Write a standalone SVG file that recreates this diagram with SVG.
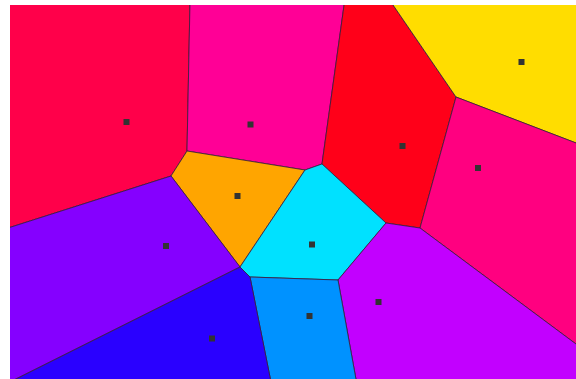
<svg xmlns="http://www.w3.org/2000/svg" width="576" height="379" viewBox="0 0 576 379">
<defs>
<clipPath id="frame"><rect x="10" y="5" width="566" height="374"/></clipPath>
</defs>
<style>
.cell{stroke:#3a1a3a;stroke-width:0.8;stroke-linejoin:round}
.site{fill:#333333}
</style>
<rect width="576" height="379" fill="#ffffff"/>
<g id="cells" clip-path="url(#frame)">
<g id="cell-a"><polygon class="cell" fill="#ff004a" points="8,2 190,2 187,151 171,176 8,228"/><rect class="site" x="123.5" y="119" width="6" height="6"/></g>
<g id="cell-b"><polygon class="cell" fill="#ff0096" points="190,2 344.5,2 322,164 305,170 187,151"/><rect class="site" x="247.5" y="121.5" width="6" height="6"/></g>
<g id="cell-c"><polygon class="cell" fill="#ff0019" points="344.5,2 391,2 456,97 420,228 386,223 322,164"/><rect class="site" x="399.5" y="143" width="6" height="6"/></g>
<g id="cell-d"><polygon class="cell" fill="#ffdd00" points="391,2 580,2 580,144.5 456,97"/><rect class="site" x="518.5" y="59" width="6" height="6"/></g>
<g id="cell-e"><polygon class="cell" fill="#ff0080" points="456,97 580,144.5 580,347 420,228"/><rect class="site" x="475" y="165" width="6" height="6"/></g>
<g id="cell-f"><polygon class="cell" fill="#ffa500" points="187,151 305,170 240,267 171,176"/><rect class="site" x="234.5" y="193" width="6" height="6"/></g>
<g id="cell-g"><polygon class="cell" fill="#8500ff" points="8,228 171,176 240,267 12,381 8,381"/><rect class="site" x="163" y="243" width="6" height="6"/></g>
<g id="cell-h"><polygon class="cell" fill="#00e1ff" points="305,170 322,164 386,223 338,280 250,277 240,267"/><rect class="site" x="309" y="241.5" width="6" height="6"/></g>
<g id="cell-i"><polygon class="cell" fill="#c200ff" points="386,223 420,228 580,347 580,382 356.5,382 338,280"/><rect class="site" x="375.5" y="299" width="6" height="6"/></g>
<g id="cell-j"><polygon class="cell" fill="#0092ff" points="250,277 338,280 356.5,382 271,382"/><rect class="site" x="306.5" y="313" width="6" height="6"/></g>
<g id="cell-k"><polygon class="cell" fill="#2a00ff" points="240,267 250,277 271,382 12,381"/><rect class="site" x="209" y="335.5" width="6" height="6"/></g>
</g>
<g id="connectors"></g>
</svg>
